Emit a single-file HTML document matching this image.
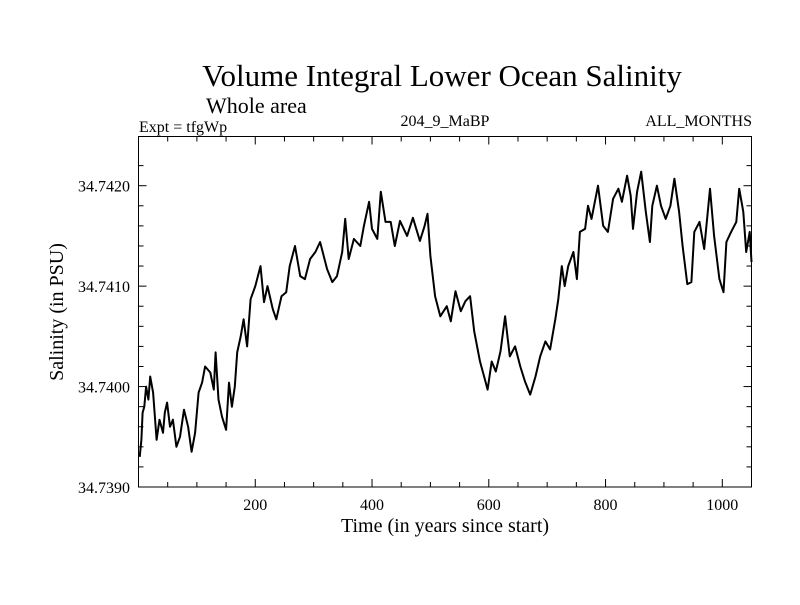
<!DOCTYPE html>
<html><head><meta charset="utf-8"><style>
html,body{margin:0;padding:0;background:#fff;}
svg text{font-family:"Liberation Serif",serif;fill:#000;}
</style></head><body>
<svg id="chart" width="800" height="600" viewBox="0 0 800 600" xmlns="http://www.w3.org/2000/svg">
<rect width="800" height="600" fill="#fff"/>
<text x="442" y="86" font-size="31" text-anchor="middle">Volume Integral Lower Ocean Salinity</text>
<text x="206" y="113" font-size="22">Whole area</text>
<text x="139" y="132" font-size="16">Expt = tfgWp</text>
<text x="445" y="126" font-size="16" text-anchor="middle">204_9_MaBP</text>
<text x="752" y="126" font-size="16" text-anchor="end">ALL_MONTHS</text>
<text transform="translate(63,312) rotate(-90)" font-size="20" text-anchor="middle">Salinity (in PSU)</text>
<text x="445" y="532" font-size="20" text-anchor="middle">Time (in years since start)</text>
<g id="axes"></g>
<path id="series" fill="none" stroke="#000" stroke-width="2" stroke-linejoin="round"/>
<rect x="138.5" y="136.5" width="613" height="350.5" fill="none" stroke="#000" stroke-width="1"/>
</svg>
<script>
const years = [2,5,7,10,13,17,20,25,31,36,42,45,49,54,59,65,71,78,85,91,97,103,109,114,123,129,132,137,143,150,155,160,165,169,175,180,186,192,200,209,215,221,230,236,245,253,259,268,277,285,294,303,311,323,332,340,349,354,360,369,380,386,395,400,409,415,423,432,439,448,460,470,482,490,495,500,508,517,528,535,543,552,560,568,575,585,592,598,605,612,620,628,636,645,654,662,671,680,688,697,705,714,719,725,730,736,745,751,756,765,770,776,787,796,804,813,822,828,837,843,847,854,861,869,876,880,888,895,903,911,918,926,932,940,947,952,961,969,979,986,995,1002,1007,1015,1024,1029,1036,1041,1047,1050];
const salinity = [34.73930,34.73947,34.73974,34.73980,34.74000,34.73987,34.74010,34.73994,34.73947,34.73967,34.73954,34.73974,34.73984,34.73960,34.73967,34.73940,34.73950,34.73977,34.73960,34.73935,34.73954,34.73994,34.74004,34.74020,34.74014,34.73997,34.74034,34.73987,34.73970,34.73957,34.74004,34.73980,34.74000,34.74034,34.74050,34.74067,34.74040,34.74087,34.74100,34.74120,34.74084,34.74100,34.74077,34.74067,34.74090,34.74094,34.74120,34.74140,34.74110,34.74107,34.74127,34.74134,34.74144,34.74117,34.74104,34.74110,34.74134,34.74167,34.74127,34.74147,34.74140,34.74160,34.74184,34.74157,34.74147,34.74194,34.74164,34.74164,34.74140,34.74165,34.74150,34.74168,34.74145,34.74160,34.74172,34.74130,34.74090,34.74070,34.74080,34.74065,34.74095,34.74075,34.74085,34.74090,34.74055,34.74025,34.74010,34.73997,34.74025,34.74015,34.74035,34.74070,34.74030,34.74040,34.74020,34.74005,34.73992,34.74010,34.74030,34.74045,34.74037,34.74067,34.74087,34.74120,34.74100,34.74120,34.74134,34.74107,34.74154,34.74157,34.74180,34.74167,34.74200,34.74160,34.74154,34.74187,34.74197,34.74184,34.74210,34.74190,34.74157,34.74194,34.74214,34.74174,34.74144,34.74180,34.74200,34.74180,34.74167,34.74180,34.74207,34.74174,34.74140,34.74102,34.74104,34.74154,34.74164,34.74137,34.74197,34.74150,34.74107,34.74094,34.74144,34.74154,34.74164,34.74197,34.74174,34.74134,34.74154,34.74124];
const xTicks = [200,400,600,800,1000];
const yTicks = [34.7390,34.7400,34.7410,34.7420];
const yLabels = ["34.7390","34.7400","34.7410","34.7420"];
const X0=138.5,X1=751.5,Y0=487,Y1=136.5, XMIN=0,XMAX=1050,YMIN=34.7390,YMAX=34.74249;
function xs(v){return X0+(v-XMIN)/(XMAX-XMIN)*(X1-X0);}
function ys(v){return Y0-(v-YMIN)/(YMAX-YMIN)*(Y0-Y1);}
const NS="http://www.w3.org/2000/svg";
const g=document.getElementById('axes');
function line(x1,y1,x2,y2,name){const l=document.createElementNS(NS,'line');
l.setAttribute('x1',x1);l.setAttribute('y1',y1);l.setAttribute('x2',x2);l.setAttribute('y2',y2);
l.setAttribute('stroke','#000');l.setAttribute('stroke-width','1');


g.appendChild(l);}
for(let v=50;v<XMAX;v+=50){const x=xs(v);const big=v%200===0;const len=big?8:5;
line(x,Y0,x,Y0-len,'x-tick');line(x,Y1,x,Y1+len,'x-tick-top');}
for(let i=1;i<17;i++){const v=YMIN+i*0.0002;const y=ys(v);const big=i%5===0;const len=big?8:5;
line(X0,y,X0+len,y,'y-tick');line(X1,y,X1-len,y,'y-tick-right');}
xTicks.forEach(v=>{const t=document.createElementNS(NS,'text');
t.setAttribute('x',xs(v));t.setAttribute('y',510);t.setAttribute('font-size','16');t.setAttribute('text-anchor','middle');
t.textContent=v;


g.appendChild(t);});
yTicks.forEach((v,i)=>{const t=document.createElementNS(NS,'text');
t.setAttribute('x',130);t.setAttribute('y',ys(v)+6);t.setAttribute('font-size','16');t.setAttribute('text-anchor','end');
t.textContent=yLabels[i];


g.appendChild(t);});
let d='';years.forEach((yr,i)=>{d+=(i?'L':'M')+xs(yr).toFixed(1)+','+ys(salinity[i]).toFixed(1);});
document.getElementById('series').setAttribute('d',d);
</script>
</body></html>
